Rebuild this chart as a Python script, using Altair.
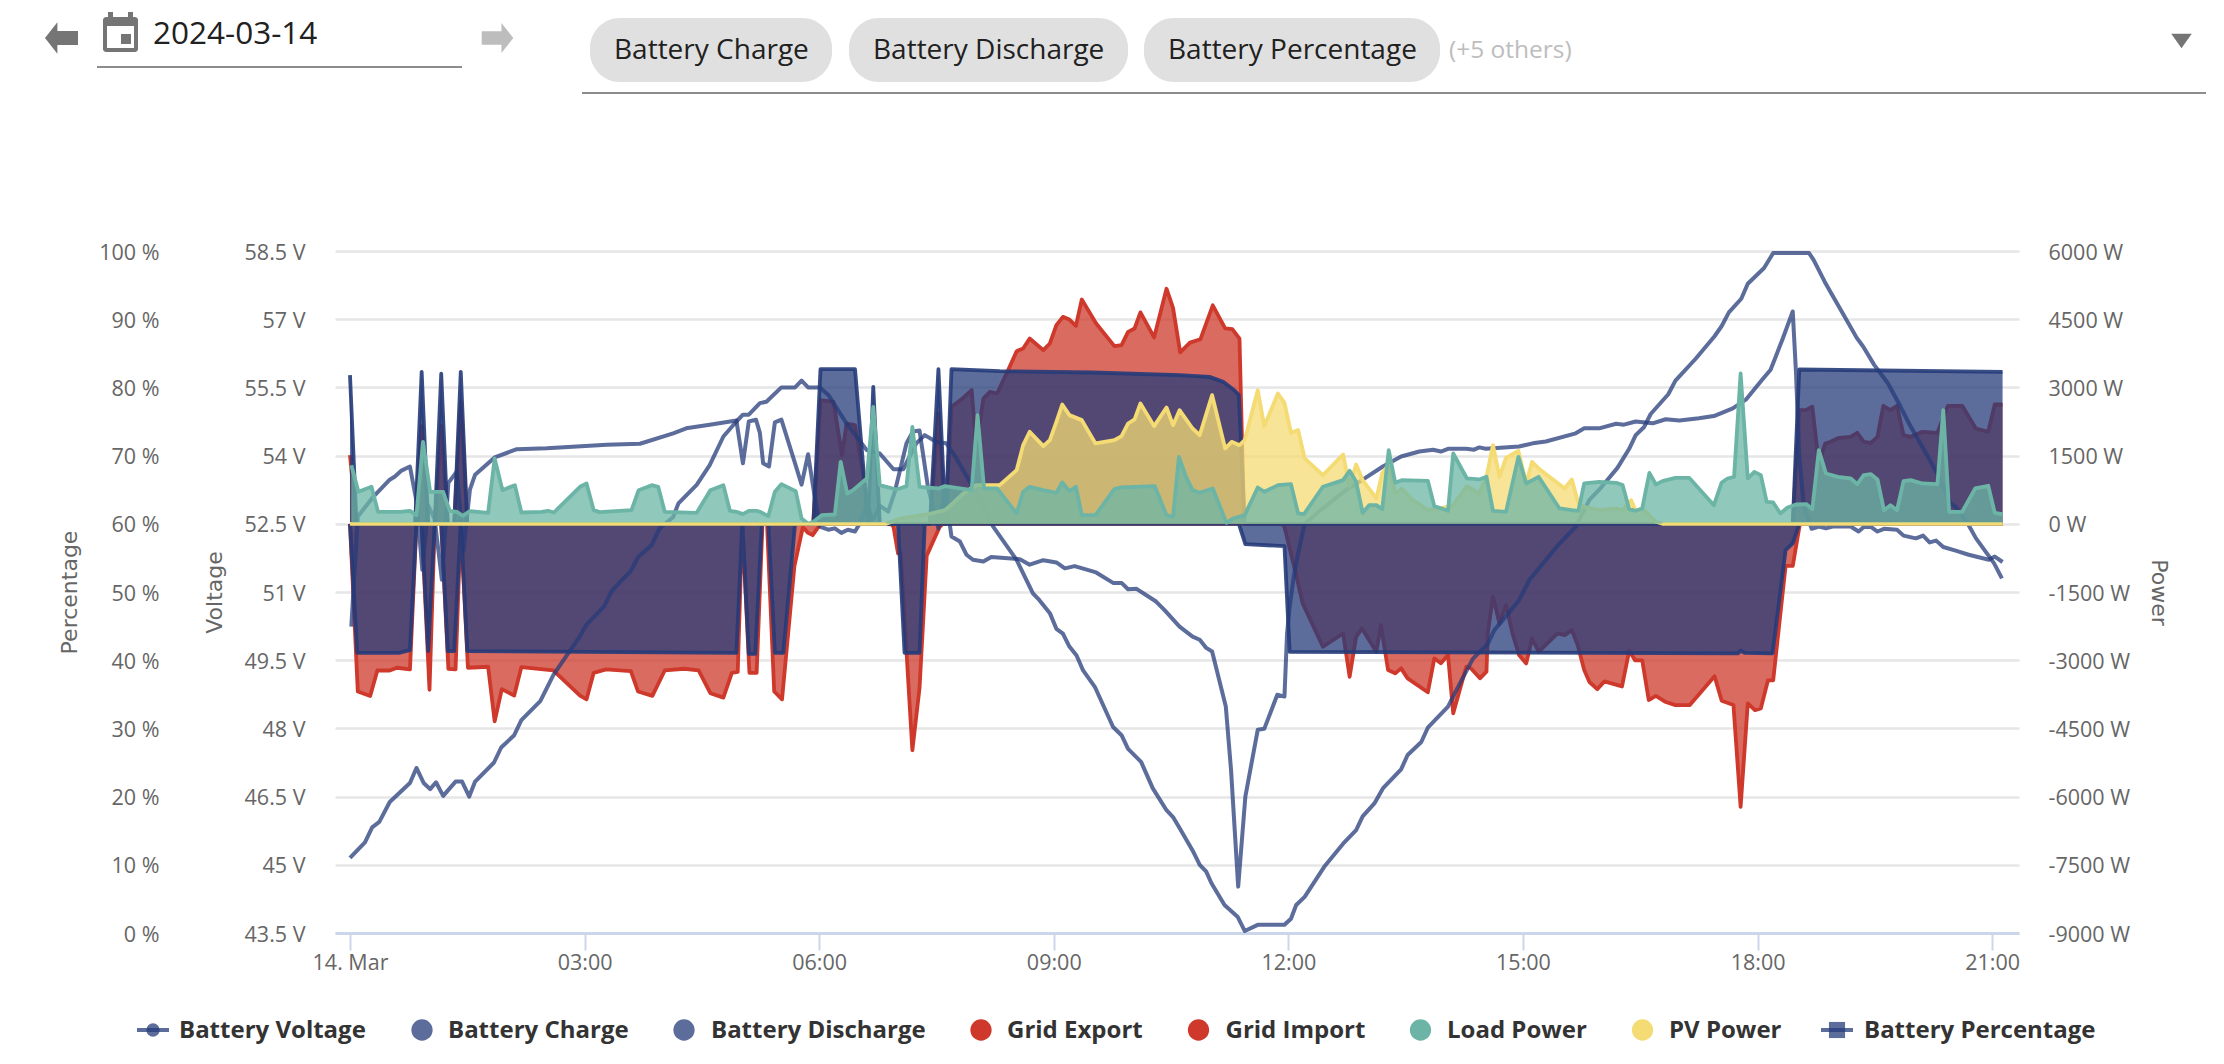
import altair as alt
import pandas as pd

# Sample indexes are 5-minute steps since midnight.
V_N = [0.2,1.2,3.6,6.1,6.9,7.9,9.2,10.2,11.1,12,13,14.1,15.1,16.4,17.4,18.4,19.2,22.2,25.6,30.2,39.4,44.5,49.6,51.6,55.2,59.3,60.3,61.2,62.3,62.9,63.4,64.3,65.2,66.2,68.3,69.3,70.3,71.3,72.1,73.4,74.4,75.4,76.4,77.5,78.2,79.3,80.3,81.3,82.6,83.6,85.4,86.4,87.4,88.7,90.3,91.3,92.3,93.6,94.6,95.6,97.2,98.4,102.8,104.3,106.4,108.4,109.7,111.2,114.5,117.1,118.4,119.4,120.7,123.7,125,127.3,129.3,130.4,131.4,132.3,134.4,135.2,136.3,137.4,139.3,140.3,142.3,143.4,143.8,144.2,144.9,145.5,146.5,149.3,152.9,155.4,158.5,161.3,164.1,166.2,167.4,168.5,171.3,172.5,173.3,174.3,179.4,181.5,183.5,188.1,189.4,191.7,194.3,195.5,197.3,199.9,201.9,204,207,209.3,212.2,214.2,216.7,218,218.8,219.8,221.4,221.9,222.4,223.1,224.3,225.4,226.5,227.5,230.3,231.5,232.3,233.4,234.4,235.4,237.4,238.4,240.3,241.4,242.4,243.4,244.5,246.4,248.4,251.5,252.4,253.6]
V_VAL = [50.24,52.66,53.1,53.47,53.54,53.67,53.76,53.0,51.49,52.9,52.6,51.27,53.4,53.65,51.9,53.25,53.58,53.96,54.14,54.16,54.24,54.26,54.49,54.6,54.68,54.77,53.83,54.75,54.79,54.5,53.83,53.76,54.73,54.79,53.83,53.36,54.03,53.1,52.44,52.37,52.4,52.3,52.37,52.33,52.5,52.88,52.6,52.9,52.77,53.2,54.27,54.53,54.55,53.3,52.4,53.25,52.22,52.11,51.82,51.71,51.67,51.77,51.72,51.6,51.7,51.65,51.52,51.57,51.43,51.2,51.2,51.06,51.07,50.79,50.6,50.24,50.02,49.95,49.77,49.69,48.48,47.09,44.52,46.5,47.97,47.99,48.74,48.7,50.09,50.68,51.4,51.85,52.5,52.84,53.25,53.47,53.76,53.98,54.09,54.13,54.09,54.15,54.15,54.13,54.18,54.15,54.2,54.27,54.31,54.49,54.6,54.6,54.7,54.68,54.75,54.71,54.8,54.77,54.82,54.87,55.04,55.23,55.67,55.89,56.18,56.55,57.17,55.82,53.98,52.88,52.39,52.44,52.4,52.44,52.44,52.33,52.43,52.43,52.33,52.39,52.37,52.24,52.18,52.24,52.09,52.13,51.99,51.91,51.82,51.71,51.78,51.66]

P_N = [0,2.3,3.4,4.5,6.1,9.2,10.2,11.3,12.3,13.2,14.3,16.2,17.2,18.3,19.2,22.1,23.2,25.2,26.3,29.2,30.3,31.2,33.4,35.2,36.3,39,40.2,43.1,44.2,46.3,47.5,49.6,50.4,53.2,55.2,57.3,59.3,60.3,61.2,62.9,63.9,66.2,68.3,69.3,70.3,72.1,73.4,75.2,76.2,79.3,81.3,83.4,84.9,86.9,88.2,90,91.5,92.6,95.6,98.7,102.3,104.8,105.8,107.4,108.4,109.4,110.4,111.5,112.5,114.3,117.1,118.4,119.4,121.4,123.2,125.3,126.3,127.3,129.3,130.4,131.4,132.2,134.2,136.2,137.3,139.3,143.4,144.4,145.2,146.5,149.5,152.4,154.4,155.4,157.2,158.5,161.3,162.3,164.4,165.4,168.5,169.5,172.3,174.6,175.6,178.4,179.4,181,185.6,188.1,190.2,191.7,194.5,196.3,197.3,198.6,199.6,202.3,203.4,206.5,209.4,210.5,211.6,213.5,214.5,217,218.4,223.9,224.6,226.3,227.3,229,231.2,232.2,233.9,236,237.7,239.3,242,243.7,245.6,246.4,248.4,249.5,252.3,253.5]
P_VAL = [11,13.3,15.5,16.3,19.2,22,24.2,22,21.1,22.1,20.1,22.2,22.2,20,22.2,25,27.2,29,31.2,34,36.1,37.8,40.9,43.4,45.2,47.9,50.2,53.1,55.1,56.9,59.3,61,63,65.7,68.6,72.8,75,76,76,77.7,77.9,80,80,81,80,80,78.9,76.2,74.7,70.8,70.3,68,68,71.8,73,72,71.8,70.3,65.4,59.6,54.7,49.8,48.8,46.9,44.6,43.9,42,40.7,38.5,36.1,30.2,29,27,25.1,21.2,18,17,15.4,12.1,10,9,7.3,4.1,2.4,0.3,1.2,1.2,2.1,4.1,5.3,9.7,13.1,15.1,17.1,19,21.2,24,26.1,28,30.1,33.2,35.1,40.2,42.4,44.4,47.6,48.8,51.8,57.1,59.6,63.5,65,68.2,71,73,74.2,76.1,79,81,84.2,87.5,89,91,93,95.2,97.5,99.7,99.7,98.7,95.5,93.8,91,87.3,86,83.3,80.6,77.6,74.6,70.1,67.1,63,62.5,59.8,57.9,54.2,52]

CH_N = [0,1,10,11,12,13,14,15,16,17,18,71.1,72.2,77.5,79.5,80.3,81.3,89,90.3,91.4,92.3,99.7,114,127.3,131.9,134,135.7,136.4,137.3,221.4,222.4,253.6]
CH_W = [3270,0,0,3340,0,0,3300,0,0,3340,0,0,3400,3400,0,3010,0,0,3400,0,3400,3357,3328,3270,3232,3122,2939,2830,0,0,3394,3340]

DIS_N = [0,1.1,7.5,9.2,10.2,11,12,13,14,15,16,17,18,59.3,60.2,61.2,62.2,63.2,64.2,65.2,66.5,68.3,84.1,85.1,87.4,88.2,136.4,137.4,143.4,144.2,213,213.4,214,218.3,220.3,221.4,222.4,253.6]
DIS_W = [0,-2840,-2840,-2780,0,0,-2800,0,0,-2800,-2800,0,-2800,-2840,0,-2860,-2860,0,0,-2840,-2840,0,0,-2840,-2840,0,0,-447,-491,-2815,-2850,-2790,-2840,-2850,-580,-432,0,0]

EXP_N = [0,1,10,11,12,13,14,15,16,17,18,71.1,72.2,74.2,75.5,76.2,77.5,79,80,89,90.3,91.4,92.3,94,95.4,96.1,97.2,98.2,99.3,101,102.3,103.3,104.3,106.4,107.4,108.4,109.4,110.4,111.4,112.3,114.5,117.3,118.4,119.4,120.4,121.3,123.4,125.3,126.3,127.4,128.9,130.5,132.4,134.3,135.4,136.5,137.2,221.4,222.4,223.4,224.4,225.4,226.4,227.2,228.5,230.3,231.3,232.3,233.4,234.4,235.3,236.4,237.4,238.4,239.5,241.3,243.6,245.2,247.4,249.5,251.4,252.4,253.6]
EXP_W = [1510,0,0,2150,0,0,2150,0,0,2680,0,0,2720,2680,1510,2206,2170,887,0,0,2426,0,2573,2756,2940,1693,2756,2903,2866,3380,3797,3856,4075,3820,3966,4369,4552,4493,4354,4933,4405,3907,3929,4222,4295,4650,4100,5170,4750,3770,3984,4058,4805,4296,4280,4074,0,0,2500,2500,2573,1327,1767,1803,1891,1913,2001,1803,1781,1913,2595,2500,2595,1950,1913,2023,2001,2595,2595,2096,2023,2624,2624]

IMP_N = [0,1.2,3.1,4.2,6.1,7.2,9.2,10.2,11,12.2,13,14,15.1,16.2,17,18.1,21.2,22.2,23.3,25.2,26.3,31.2,35.3,36.3,37.4,39.3,43.1,44.2,46.4,48.3,51.3,53.5,55.3,57.3,58.6,59.5,60.2,61.3,62.4,63.3,64,65.1,66.3,68.2,69.5,70.3,71,72.2,83,83.4,84.1,84.5,86.3,87.4,88.5,90.5,91,143,143.4,145.2,146.2,149.3,152.4,153.4,154.4,155.3,157.5,158.2,159.3,160.4,161.3,162.3,165.4,166.4,167.4,168.5,169.3,171.3,172,173.4,174.4,174.6,175.4,176.4,177.4,178.4,179.4,180.5,181.4,182.4,185.3,186.4,187.5,188.4,189.4,190.2,191.4,192.5,195.2,196.3,197.2,198.3,199.3,200.4,201.8,203.4,205.6,209.4,210.5,212.3,213.4,214.5,215.6,216.5,217.6,218.4,220.3,221.4,222.5,253.6]
IMP_W = [0,-3690,-3786,-3226,-3226,-3166,-3203,0,0,-3650,0,0,-3190,-3203,0,-3166,-3144,-4345,-3636,-3778,-3151,-3226,-3778,-3860,-3278,-3203,-3241,-3688,-3786,-3226,-3188,-3226,-3726,-3823,-3278,-3256,0,-3278,-3278,0,0,-3688,-3860,-930,-70,-200,-250,0,0,-66,-650,-630,-4980,-3614,-700,-66,0,0,-66,-1129,-1752,-2705,-2412,-3365,-2485,-2302,-2815,-2228,-3215,-3289,-3179,-3399,-3706,-2959,-3069,-2885,-4168,-3142,-3179,-3399,-3252,-2409,-1600,-2192,-1788,-2412,-2888,-3071,-2522,-2815,-2412,-2448,-2338,-2668,-3218,-3480,-3636,-3465,-3577,-2793,-3002,-3002,-3875,-3786,-3913,-3987,-3987,-3353,-3890,-3987,-6227,-3950,-4099,-4062,-3442,-3442,-927,-927,0,0]

LOAD_N = [0.2,1.3,3.3,4.3,7.7,9.2,10.2,11.2,12.3,14.3,15.3,16.4,17.3,18.4,21.2,22.2,23.4,25.3,26.3,29.4,30.4,31.3,35.3,36.3,37.4,38.3,43.2,44.3,46.3,47.3,48.3,53.2,55.3,57.3,58.3,59.3,60.3,61.2,62.4,62.9,64.2,65.2,66.2,68.4,69.3,70.3,71.1,72.4,74.4,75.3,76.3,77.2,79.3,80.3,81.3,83.9,85.4,86.3,87.4,90.3,91.3,95.4,96.3,97.3,99.3,102.3,103.3,104.3,106.4,108.4,109.3,110.4,111.4,112.3,114.4,117.3,118.4,123.5,125.3,126.3,127.2,128.3,129.3,130.4,132.4,134.5,135.5,137.3,139.3,140.3,142.4,144.4,145.5,146.4,149.3,152.4,153.4,154.4,155.4,156.4,157.5,158.4,159.4,160.4,161.4,165.4,166.4,168.5,169.3,171.4,173.3,174.4,175.4,177.4,179.3,180.5,182.4,185.6,187.5,188.5,189.4,191.7,194.3,195.3,196.3,197.3,198.3,199.4,200.4,201.4,203.4,205.5,209.3,210.5,211.4,212.4,213.4,214.5,215.5,216.5,217.4,218.4,219.5,220.6,221.9,223.5,224.4,225.4,226.5,228.3,230.3,231.3,232.3,233.4,234.4,235.4,236.4,237.4,238.4,239.5,241.3,243.6,244.5,245.4,247.4,249.4,251.4,252.4,253.6]
LOAD_W = [1290,704,814,264,264,286,190,1803,704,704,286,264,176,279,242,1437,740,850,249,264,286,249,814,887,300,257,300,740,850,814,264,242,740,850,286,264,213,286,286,264,169,704,872,718,117,0,44,190,205,1363,667,740,997,2573,850,755,828,2133,814,777,828,740,2390,777,777,227,704,814,740,682,909,718,814,190,190,762,799,828,190,154,1473,1033,740,682,777,22,117,190,799,704,850,872,227,213,814,960,1165,924,242,410,410,322,1620,902,960,946,388,286,1547,997,975,1033,286,264,1473,887,1033,337,300,286,887,924,902,850,322,286,337,1121,865,938,1011,1011,410,909,997,1033,3306,997,1143,1070,484,469,227,359,425,432,322,1620,1107,1033,997,872,1070,1092,975,300,410,300,938,960,887,872,2500,264,264,777,836,242,213]

PV_N = [0,82.3,84.4,88.5,91.3,92.5,94,96.1,99.7,102.3,103.3,104.3,106.4,107.4,108.4,109.3,110.4,112.3,114.4,117.3,118.4,119.4,120.4,121.3,123.4,125.3,126.3,127.3,129.3,130.4,132.3,134.3,135.3,136.5,137.3,139.3,140.3,142.4,143.4,144.4,145.5,146.5,149.3,152.4,153.4,154.4,155.4,157.5,158.4,159.4,160.4,161.4,163.1,165.4,168.5,169.3,171.4,173.3,174.4,175.4,176.4,177.4,179.3,180.5,181.4,182.4,186.4,187.5,188.5,189.4,191.7,194.3,195.3,196.6,197.3,198.3,200.4,201.4,253.6]
PV_W = [0,0,117,205,300,447,652,850,850,1180,1730,2023,1708,1840,2243,2624,2390,2280,1767,1840,1928,2206,2295,2646,2148,2558,2170,2500,2096,1950,2829,1657,1803,1730,1840,2939,2148,2866,2661,2001,2060,1437,1070,1525,814,1305,960,557,1107,1300,667,777,520,300,374,410,828,667,1033,1730,1033,1451,1605,887,1363,1217,777,975,447,374,300,337,300,520,286,337,44,0,0]

PCT_TICKS = [0,10,20,30,40,50,60,70,80,90,100]
V_TICKS = [43.5,45,46.5,48,49.5,51,52.5,54,55.5,57,58.5]
W_TICKS = [-9000,-7500,-6000,-4500,-3000,-1500,0,1500,3000,4500,6000]
X_TICKS = [0,180,360,540,720,900,1080,1260]
X_LABELS = ["14. Mar","03:00","06:00","09:00","12:00","15:00","18:00","21:00"]

LEGEND_LABELS = ["Battery Voltage","Battery Charge","Battery Discharge","Grid Export","Grid Import","Load Power","PV Power","Battery Percentage"]
CHIPS = ["Battery Charge","Battery Discharge","Battery Percentage"]

BLUE, RED, TEAL, YELLOW = "#253b79", "#ce392c", "#6cb5a6", "#f4db73"
GRAY_TXT = "#666666"
OX, OY, W, H = 335, 251, 1684, 682
XDOM = [-11.5, 1280.6]
X_SCALE = alt.Scale(domain=XDOM, nice=False)
X_AXIS = alt.Axis(
    values=X_TICKS, labelExpr="%s[datum.value / 180]" % str(X_LABELS), title=None, grid=False,
    domainColor="#ccd6eb", domainWidth=3, tickColor="#ccd6eb", tickWidth=2, tickSize=17,
    labelFont="Open Sans", labelFontSize=21.5, labelColor=GRAY_TXT, labelPadding=2, labelOverlap=False,
    labelFlush=False)

def frame(n, v):
    return pd.DataFrame({"t": [i * 5 for i in n], "v": v})

def xenc():
    return alt.X("t:Q", scale=X_SCALE, axis=X_AXIS)

W_SCALE = alt.Scale(domain=[-9000, 6000], nice=False, zero=False)
def yw():
    return alt.Y("v:Q", scale=W_SCALE, axis=None)

def area(n, v, col, line_op=1.0):
    return alt.Chart(frame(n, v)).mark_area(
        color=col, opacity=0.75, clip=False,
        line=dict(color=col, strokeWidth=3.8, strokeJoin="round", opacity=line_op),
    ).encode(x=xenc(), y=yw())

def line(n, v, dom):
    return alt.Chart(frame(n, v)).mark_line(
        color=BLUE, opacity=0.75, strokeWidth=4, strokeJoin="round",
    ).encode(x=xenc(), y=alt.Y("v:Q", scale=alt.Scale(domain=dom, nice=False, zero=False), axis=None))

def axis_base(**kw):
    base = dict(domain=False, ticks=False, labelFont="Open Sans", labelFontSize=21.5, labelColor=GRAY_TXT,
                labelOffset=2, labelOverlap=False, title=None, titleFont="DejaVu Sans",
                titleFontSize=22, titleFontWeight="normal", titleColor=GRAY_TXT, titleY=H / 2,
                titleBaseline="middle", titleAlign="center", grid=False)
    base.update(kw)
    return alt.Axis(**base)

# invisible carriers that hold the three value axes and the time axis
carrier_w = alt.Chart(pd.DataFrame({"v": W_TICKS, "t": [0] * 11})).mark_point(opacity=0).encode(
    x=xenc(),
    y=alt.Y("v:Q", scale=W_SCALE, axis=axis_base(
        orient="right", values=W_TICKS, labelExpr="datum.value + ' W'", labelPadding=29, labelAlign="left",
        grid=True, gridColor="#e6e6e6", gridWidth=2.4, title="Power", titleAngle=90, titleX=139)),
)
carrier_v = alt.Chart(pd.DataFrame({"v": V_TICKS})).mark_point(opacity=0).encode(
    x=alt.value(0),
    y=alt.Y("v:Q", scale=alt.Scale(domain=[43.5, 58.5], nice=False, zero=False), axis=axis_base(
        orient="left", values=V_TICKS, labelExpr="datum.value + ' V'", labelPadding=30,
        title="Voltage", titleAngle=270, titleX=-121)),
)
carrier_p = alt.Chart(pd.DataFrame({"v": PCT_TICKS})).mark_point(opacity=0).encode(
    x=alt.value(0),
    y=alt.Y("v:Q", scale=alt.Scale(domain=[0, 100], nice=False, zero=False), axis=axis_base(
        orient="left", offset=146, values=PCT_TICKS, labelExpr="datum.value + ' %'", labelPadding=30,
        title="Percentage", titleAngle=270, titleX=-120)),
)

# yellow zero stretches of PV drawn over the load fill
zero_pv = frame(PV_N, PV_W)
zero_pv = zero_pv[zero_pv.v == 0].assign(seg=lambda d: (d.t > 600).astype(int))
pv_zero = alt.Chart(zero_pv).mark_line(color=YELLOW, strokeWidth=2.4).encode(x=xenc(), y=yw(), detail="seg:N")

# page furniture and legend
one = pd.DataFrame({"k": [0]})
def rect(x0, x1, y0, y1, col, radius=0, op=1.0):
    return alt.Chart(one).mark_rect(color=col, cornerRadius=radius, opacity=op).encode(
        x=alt.value(x0 - OX), x2=alt.value(x1 - OX), y=alt.value(y0 - OY), y2=alt.value(y1 - OY))
def text(s, x, y, size, col, font="Open Sans", weight="normal", align="left"):
    return alt.Chart(one).mark_text(text=s, font=font, fontSize=size, color=col, fontWeight=weight,
                                    align=align, baseline="middle").encode(
        x=alt.value(x - OX), y=alt.value(y - OY))
def sym(shape, x, y, size, col, op=1.0):
    return alt.Chart(one).mark_point(shape=shape, size=size, color=col, filled=True, opacity=op, strokeWidth=0).encode(
        x=alt.value(x - OX), y=alt.value(y - OY))

ARROW_L = "M -1 0 L -0.25 -0.95 L -0.25 -0.42 L 1 -0.42 L 1 0.42 L -0.25 0.42 L -0.25 0.95 Z"
ARROW_R = "M 1 0 L 0.25 -0.95 L 0.25 -0.42 L -1 -0.42 L -1 0.42 L 0.25 0.42 L 0.25 0.95 Z"
furn = [
    sym(ARROW_L, 61.5, 38, 1090, "#757575"),
    sym(ARROW_R, 497.5, 38, 1000, "#bdbdbd"),
    rect(103, 138, 17, 52, "#757575", 3),
    rect(108, 113, 12, 20, "#757575"),
    rect(128, 133, 12, 20, "#757575"),
    rect(107, 134, 26, 48, "#ffffff"),
    rect(121, 131, 34, 44, "#757575"),
    text("2024-03-14", 153, 35, 31.5, "#212121"),
    rect(97, 462, 66, 68, "#8c8c8c"),
    rect(590, 832, 18, 82, "#e0e0e0", 30),
    rect(849, 1128, 18, 82, "#e0e0e0", 30),
    rect(1144, 1440, 18, 82, "#e0e0e0", 30),
    text(CHIPS[0], 614, 51, 28, "#212121"),
    text(CHIPS[1], 873, 51, 28, "#212121"),
    text(CHIPS[2], 1168, 51, 28, "#212121"),
    text("(+5 others)", 1449, 51, 24.5, "#bdbdbd"),
    sym("M -1 -0.7 L 1 -0.7 L 0 0.7 Z", 2181.5, 41, 420, "#757575"),
    rect(582, 2206, 92, 94, "#8c8c8c"),
]

SYM_COL = [None, "#5c6c9b", "#5c6c9b", RED, RED, TEAL, YELLOW, None]
SYM_X = [None, 422, 684, 981, 1198.5, 1420.5, 1642.5, None]
TXT_X = [179, 448, 711, 1007, 1225.5, 1447, 1669, 1864]
LEG_Y = 1030
leg = [
    sym("circle", 153, LEG_Y, 177, "#5c6c9b"),
    rect(137, 169, LEG_Y - 2, LEG_Y + 2, "#253b79", 0, 0.75),
    sym("square", 1837, LEG_Y, 260, "#5c6c9b"),
    rect(1821, 1853, LEG_Y - 2, LEG_Y + 2, "#253b79", 0, 0.75),
]
for i, lab in enumerate(LEGEND_LABELS):
    if SYM_X[i] is not None:
        leg.append(sym("circle", SYM_X[i], LEG_Y, 452, SYM_COL[i]))
    leg.append(text(lab, TXT_X[i], LEG_Y + 1, 24, "#333333", weight=700))

layers = [carrier_w, carrier_v, carrier_p,
          area(EXP_N, EXP_W, RED), area(IMP_N, IMP_W, RED),
          area(CH_N, CH_W, BLUE, 0.9), area(DIS_N, DIS_W, BLUE, 0.9),
          line(V_N, V_VAL, [43.5, 58.5]), line(P_N, P_VAL, [0, 100]),
          area(PV_N, PV_W, YELLOW), area(LOAD_N, LOAD_W, TEAL), pv_zero] + furn + leg

chart = alt.layer(*layers).resolve_scale(y="independent").properties(
    width=W, height=H,
    autosize=alt.AutoSizeParams(type="none"),
    padding={"left": OX - 8, "top": OY - 8, "right": 2208 - (OX - 8) - W, "bottom": 1048 - (OY - 8) - H},
).configure_view(stroke=None)

chart.save("out.html", embed_options={"renderer": "svg", "actions": False})
